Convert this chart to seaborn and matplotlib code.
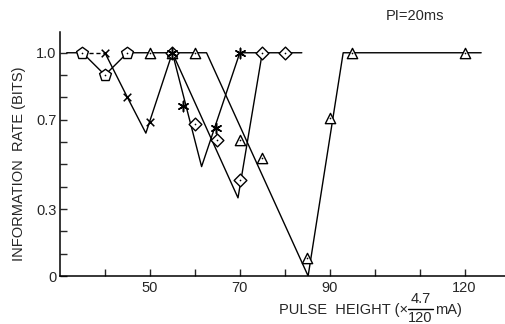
import matplotlib
matplotlib.use('Agg')
import matplotlib.pyplot as plt
from matplotlib.lines import Line2D
import seaborn as sns
import pandas as pd

sns.set_style('ticks')
plt.rcParams['font.family'] = ['Liberation Sans', 'DejaVu Sans']

# ---- data ----
# pentagon series
pent_line_x = [31.5, 35, 40, 45, 50]
pent_line_y = [1.0, 1.0, 0.90, 1.0, 1.0]
pent_pts_x = [35, 40, 45]
pent_pts_y = [1.0, 0.90, 1.0]

# cross series
cross_dash_x = [35, 40]
cross_dash_y = [1.0, 1.0]
cross_line_x = [40, 45, 49.1, 55]
cross_line_y = [1.0, 0.80, 0.64, 1.0]
cross_pts_x = [40, 45, 50]
cross_pts_y = [1.0, 0.80, 0.69]

# triangle series
tri_line_x = [50, 62.6, 85.2, 93, 123.7]
tri_line_y = [1.0, 1.0, 0.0, 1.0, 1.0]
tri_pts_x = [50, 55, 60, 70, 75, 85, 90, 95, 120]
tri_pts_y = [1.0, 1.0, 1.0, 0.61, 0.53, 0.08, 0.71, 1.0, 1.0]

# asterisk series
ast_line_x = [55, 61.5, 70, 75]
ast_line_y = [1.0, 0.49, 1.0, 1.0]
ast_pts_x = [55, 57.3, 64.7, 70]
ast_pts_y = [1.0, 0.76, 0.665, 1.0]

# diamond series
dia_line_x = [55, 69.6, 75, 83.8]
dia_line_y = [1.0, 0.35, 1.0, 1.0]
dia_pts_x = [55, 60, 65, 70, 75, 80]
dia_pts_y = [1.0, 0.68, 0.61, 0.43, 1.0, 1.0]

x_ticks = [40, 50, 60, 70, 80, 90, 100, 110, 120]
x_tick_labels = ['', '50', '', '70', '', '90', '', '', '120']
y_ticks = [0, 0.1, 0.2, 0.3, 0.4, 0.5, 0.6, 0.7, 0.8, 0.9, 1.0]
y_tick_labels = ['0', '', '', '0.3', '', '', '', '0.7', '', '', '1.0']

W, H = 506, 324
fig = plt.figure(figsize=(W / 100, H / 100), dpi=100)
ax = fig.add_axes([60 / W, 1 - 276 / H, 445 / W, 244 / H])

lw = 1.0
k = 'black'


def line(xs, ys, **kw):
    df = pd.DataFrame({'x': xs, 'y': ys})
    sns.lineplot(data=df, x='x', y='y', sort=False, estimator=None,
                 color=k, linewidth=lw, ax=ax, **kw)


def pts(xs, ys, marker, size, filled=True, dot=True):
    df = pd.DataFrame({'x': xs, 'y': ys})
    if filled:
        sns.scatterplot(data=df, x='x', y='y', marker=marker, s=size,
                        facecolor='white', edgecolor=k, linewidth=1.0,
                        ax=ax, zorder=5)
    else:
        sns.scatterplot(data=df, x='x', y='y', marker=marker, s=size,
                        color=k, linewidth=1.1, ax=ax, zorder=5)
    if dot:
        sns.scatterplot(data=df, x='x', y='y', marker='o', s=1.5,
                        color=k, linewidth=0, ax=ax, zorder=6)


line(pent_line_x, pent_line_y)
line(cross_dash_x, cross_dash_y, linestyle=(0, (3, 2)))
line(cross_line_x, cross_line_y)
line(tri_line_x, tri_line_y)
line(ast_line_x, ast_line_y)
line(dia_line_x, dia_line_y)

pts(pent_pts_x, pent_pts_y, 'p', 80)
pts(tri_pts_x, tri_pts_y, '^', 55)
pts(dia_pts_x, dia_pts_y, 'D', 42)
pts(cross_pts_x, cross_pts_y, 'x', 30, filled=False, dot=False)
pts(ast_pts_x, ast_pts_y, (6, 2, 0), 55, filled=False, dot=False)

ax.set_xlim(30, 129)
ax.set_ylim(0, 1.093)
ax.set_xticks(x_ticks)
ax.set_xticklabels(x_tick_labels)
ax.set_yticks(y_ticks)
ax.set_yticklabels(y_tick_labels)
ax.tick_params(axis='x', direction='in', length=5, width=1, pad=3.5, labelsize=10.5)
ax.tick_params(axis='y', direction='in', length=5, width=1, pad=2.5, labelsize=10.5)
for s in ['top', 'right']:
    ax.spines[s].set_visible(False)
for s in ['left', 'bottom']:
    ax.spines[s].set_linewidth(1.1)
    ax.spines[s].set_color(k)
ax.set_xlabel('')
ax.set_ylabel('')

fig.text(19 / W, 1 - 164 / H, 'INFORMATION  RATE (BITS)', rotation=90,
         ha='center', va='center', fontsize=10.5)

# x-axis label with a stacked fraction
row_y = 310
fig.text(408 / W, 1 - row_y / H, 'PULSE  HEIGHT (\u00d7', ha='right',
         va='center', fontsize=10.5)
fig.text(420.5 / W, 1 - 299 / H, '4.7', ha='center', va='center', fontsize=10.5)
fig.text(420.5 / W, 1 - 318 / H, '120', ha='center', va='center', fontsize=10.5)
fig.add_artist(Line2D([408 / W, 433 / W], [1 - 308.5 / H, 1 - 308.5 / H],
                      color=k, linewidth=1.0, transform=fig.transFigure))
fig.text(435 / W, 1 - row_y / H, 'mA)', ha='left', va='center', fontsize=10.5)

fig.text(444 / W, 1 - 16 / H, 'PI=20ms', ha='right', va='center',
         fontsize=10.5)

fig.savefig('out.png', dpi=100)
